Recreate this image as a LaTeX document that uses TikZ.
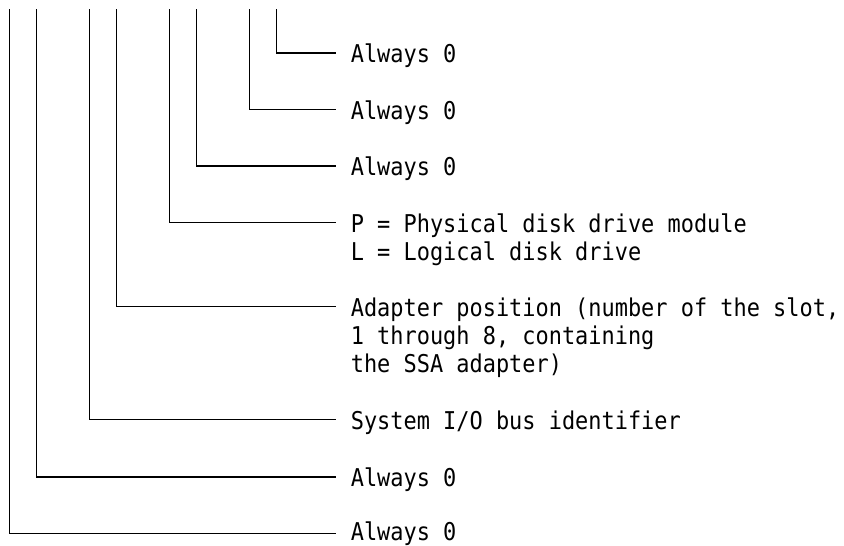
\documentclass[tikz,border=0pt]{standalone}
\usepackage{fontspec}
\newfontfamily\monofont[FakeStretch=0.895]{DejaVu Sans Mono}
\begin{document}
\begin{tikzpicture}[x=1pt,y=-1pt,line width=1.6pt,
  lbl/.style={anchor=north west,inner sep=0pt,align=left,
    font=\monofont\fontsize{24.5pt}{28.33pt}\selectfont},
  wire/.style={draw=black}]
\useasboundingbox (0,0) rectangle (844,546);
% tops of the vertical lines
\coordinate (t1) at (276.3,9.3);
\coordinate (t2) at (249.5,9.3);
\coordinate (t3) at (196.3,9.3);
\coordinate (t4) at (169.5,9.3);
\coordinate (t5) at (116.3,9.3);
\coordinate (t6) at (89.5,9.3);
\coordinate (t7) at (36.3,9.3);
\coordinate (t8) at (9.5,9.3);
% ends of the horizontal lines
\coordinate (e1) at (336,52.7);
\coordinate (e2) at (336,109.3);
\coordinate (e3) at (336,166);
\coordinate (e4) at (336,222.3);
\coordinate (e5) at (336,306.5);
\coordinate (e6) at (336,419.5);
\coordinate (e7) at (336,476.7);
\coordinate (e8) at (336,533.3);
\foreach \i in {1,...,8} {\draw[wire] (t\i) |- (e\i);}
\node[lbl] (l1) at ([xshift=14pt,yshift=11pt]e1) {\rule{0pt}{20pt}Always 0};
\node[lbl] (l2) at ([xshift=14pt,yshift=11pt]e2) {\rule{0pt}{20pt}Always 0};
\node[lbl] (l3) at ([xshift=14pt,yshift=11pt]e3) {\rule{0pt}{20pt}Always 0};
\node[lbl] (l4) at ([xshift=14pt,yshift=11pt]e4) {\rule{0pt}{20pt}P = Physical disk drive module\\L = Logical disk drive};
\node[lbl] (l5) at ([xshift=14pt,yshift=11pt]e5) {\rule{0pt}{20pt}Adapter position (number of the slot,\\1 through 8, containing\\the SSA adapter)};
\node[lbl] (l6) at ([xshift=14pt,yshift=11pt]e6) {\rule{0pt}{20pt}System I/O bus identifier};
\node[lbl] (l7) at ([xshift=14pt,yshift=11pt]e7) {\rule{0pt}{20pt}Always 0};
\node[lbl] (l8) at ([xshift=14pt,yshift=13.6pt]e8) {\rule{0pt}{20pt}Always 0};
\end{tikzpicture}
\end{document}
